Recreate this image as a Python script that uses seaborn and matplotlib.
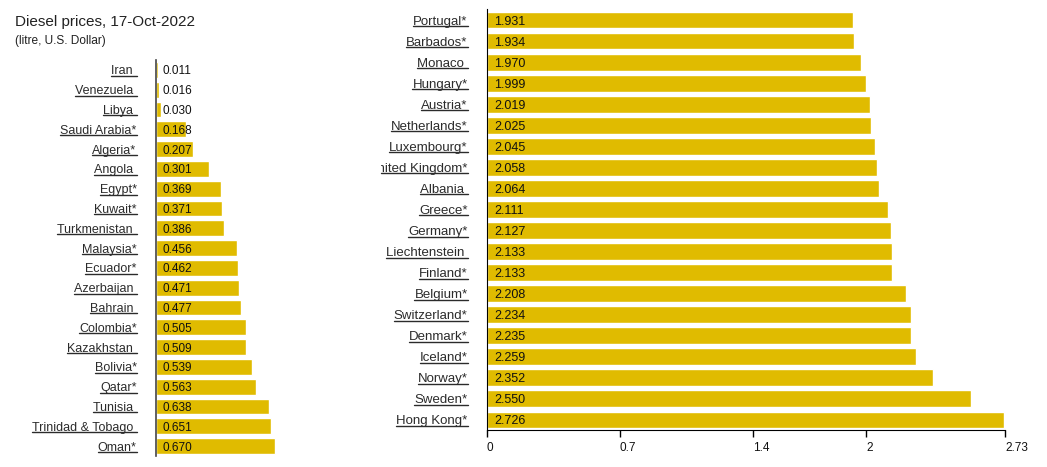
import matplotlib
matplotlib.use("Agg")
import matplotlib.pyplot as plt
import pandas as pd
import seaborn as sns
from matplotlib.lines import Line2D
from matplotlib.transforms import Bbox

# left panel: cheapest diesel
low_countries = ["Iran ", "Venezuela ", "Libya ", "Saudi Arabia*", "Algeria*", "Angola ",
                 "Egypt*", "Kuwait*", "Turkmenistan ", "Malaysia*", "Ecuador*", "Azerbaijan ",
                 "Bahrain ", "Colombia*", "Kazakhstan ", "Bolivia*", "Qatar*", "Tunisia ",
                 "Trinidad & Tobago ", "Oman*"]
low_prices = [0.011, 0.016, 0.030, 0.168, 0.207, 0.301, 0.369, 0.371, 0.386, 0.456,
              0.462, 0.471, 0.477, 0.505, 0.509, 0.539, 0.563, 0.638, 0.651, 0.670]

# right panel: most expensive diesel
high_countries = ["Portugal*", "Barbados*", "Monaco ", "Hungary*", "Austria*", "Netherlands*",
                  "Luxembourg*", "United Kingdom*", "Albania ", "Greece*", "Germany*",
                  "Liechtenstein ", "Finland*", "Belgium*", "Switzerland*", "Denmark*",
                  "Iceland*", "Norway*", "Sweden*", "Hong Kong*"]
high_prices = [1.931, 1.934, 1.970, 1.999, 2.019, 2.025, 2.045, 2.058, 2.064, 2.111,
               2.127, 2.133, 2.133, 2.208, 2.234, 2.235, 2.259, 2.352, 2.550, 2.726]
high_ticks = [0, 0.7, 1.4, 2, 2.73]

BAR = "#E0BB00"
TXT = "#2b2b2b"

sns.set_style("white")
plt.rcParams["font.family"] = ["Liberation Sans", "DejaVu Sans"]

fig = plt.figure(figsize=(10.47, 4.67), dpi=100)
ax1 = fig.add_axes([0.149, 0.0236, 0.1185, 0.848])
ax2 = fig.add_axes([0.4651, 0.0782, 0.4948, 0.9015])

low_df = pd.DataFrame({"country": low_countries, "price": low_prices})
high_df = pd.DataFrame({"country": high_countries, "price": high_prices})

sns.barplot(data=low_df, x="price", y="country", color=BAR, saturation=1, width=0.8, ax=ax1)
sns.barplot(data=high_df, x="price", y="country", color=BAR, saturation=1, width=0.8, ax=ax2)

for ax, df, fs_lab, fs_val in [(ax1, low_df, 9, 8.5), (ax2, high_df, 9.5, 9)]:
    ax.set_xlabel("")
    ax.set_ylabel("")
    for i, v in enumerate(df["price"]):
        ax.annotate(f"{v:.3f}", xy=(0, i), xytext=(5, 0), textcoords="offset points",
                    va="center_baseline", ha="left", fontsize=fs_val, color="#111111")
    ax.tick_params(axis="y", length=0, pad=14, labelsize=fs_lab, labelcolor=TXT)
    for s in ["top", "right"]:
        ax.spines[s].set_visible(False)

ax1.set_xlim(0, 0.7)
ax1.set_xticks([])
ax1.spines["bottom"].set_visible(False)
ax1.spines["left"].set_color("#444444")
ax1.spines["left"].set_linewidth(1.2)

ax2.set_xlim(0, 2.73)
ax2.set_xticks(high_ticks)
ax2.set_xticklabels(["0", "0.7", "1.4", "2", "2.73"])
ax2.tick_params(axis="x", length=5, width=1, color="black", labelsize=8.5, pad=3,
                labelcolor="#111111", bottom=True)
for lab in ax2.get_xticklabels():
    lab.set_horizontalalignment("left")
ax2.spines["left"].set_color("black")
ax2.spines["bottom"].set_color("black")

fig.text(0.0143, 0.953, "Diesel prices, 17-Oct-2022", fontsize=11, color="#222222", va="center")
fig.text(0.0143, 0.913, "(litre, U.S. Dollar)", fontsize=8.6, color="#222222", va="center")

# underline the country names; the right panel names are cut at the left edge
fig.canvas.draw()
renderer = fig.canvas.get_renderer()
clip_x = 381
clip = Bbox.from_extents(clip_x, 0, 1047, 467)
for ax in (ax1, ax2):
    for lab in ax.get_yticklabels():
        if ax is ax2:
            lab.set_clip_on(True)
            lab.set_clip_box(clip)
        bb = lab.get_window_extent(renderer)
        _, _, descent = renderer.get_text_width_height_descent(
            "lp", lab.get_fontproperties(), ismath=False)
        x0 = max(bb.x0, clip_x) if ax is ax2 else bb.x0
        y = bb.y0 + descent - 1.5
        fig.add_artist(Line2D([x0, bb.x1], [y, y], transform=None, color=TXT, lw=1))

fig.savefig("out.png", dpi=100)
